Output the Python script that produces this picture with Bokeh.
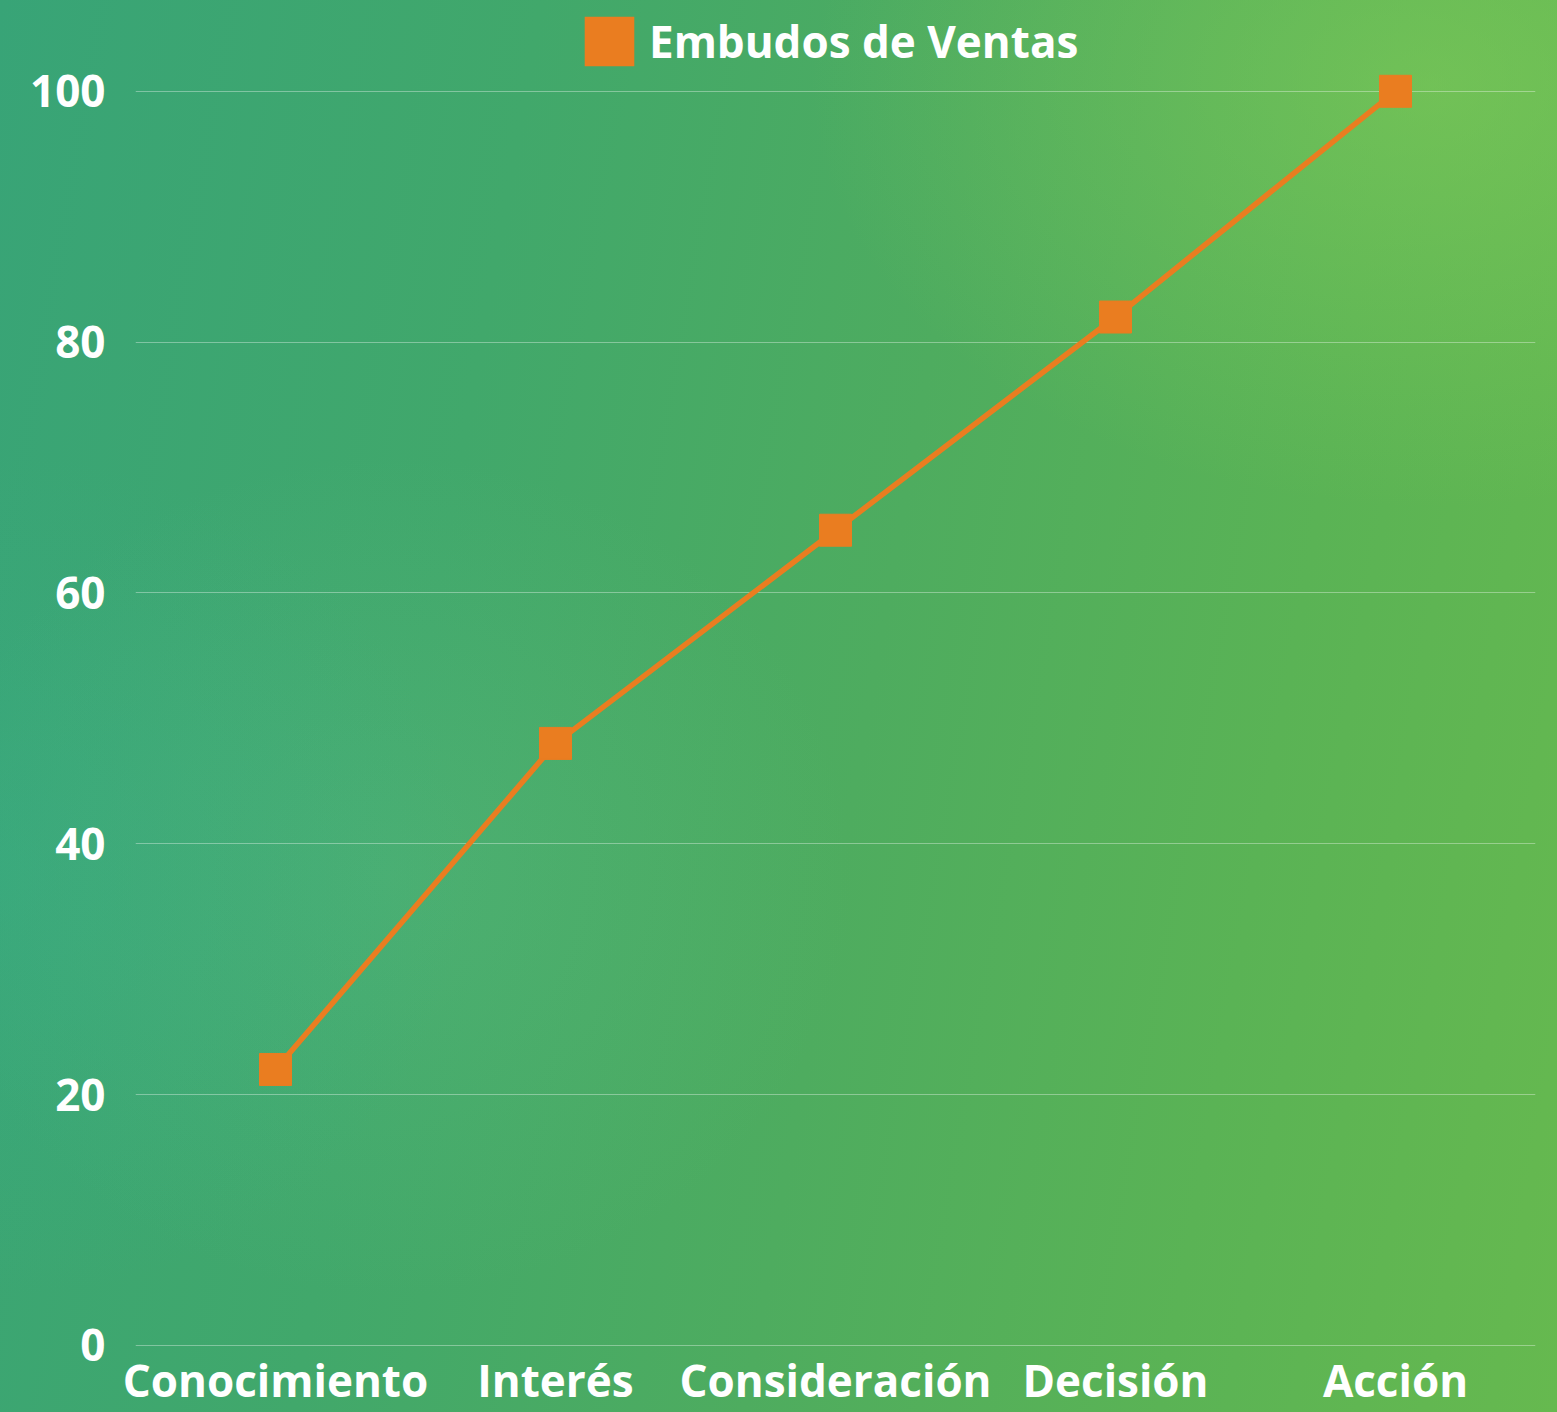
from bokeh.plotting import figure
from bokeh.models import Legend, LegendItem, FixedTicker, Range1d, FactorRange
from bokeh.embed import file_html
from bokeh.resources import INLINE

# ---- data ----
stages = ["Conocimiento", "Interés", "Consideración", "Decisión", "Acción"]
values = [22, 48, 65, 82, 100]
y_ticks = [0, 20, 40, 60, 80, 100]
series_name = "Embudos de Ventas"

ORANGE = "#EA7D20"
FONT = "Open Sans"

W, H = 1557, 1412
p = figure(
    x_range=FactorRange(*stages, range_padding=0),
    y_range=Range1d(-0.25, 107.24),
    width=W, height=H,
    output_backend="svg", toolbar_location=None,
    min_border_left=135, min_border_right=22, min_border_top=0, min_border_bottom=64,
)
p.border_fill_color = None
p.background_fill_color = None
p.outline_line_color = None

# axes
for ax in (p.xaxis, p.yaxis):
    ax.axis_line_color = None
    ax.major_tick_line_color = None
    ax.minor_tick_line_color = None
    ax.major_tick_out = 0
    ax.major_tick_in = 0
    ax.major_label_text_font = FONT
    ax.major_label_text_font_style = "bold"
    ax.major_label_text_color = "white"
    ax.major_label_text_font_size = "44px"
p.xaxis.major_label_standoff = 1
p.yaxis.major_label_standoff = 30
p.yaxis.ticker = FixedTicker(ticks=y_ticks)

# grid
p.xgrid.grid_line_color = None
p.ygrid.grid_line_color = "white"
p.ygrid.grid_line_alpha = 0.35
p.ygrid.grid_line_width = 1

# series
p.line(x=stages, y=values, line_color=ORANGE, line_width=5.5)
p.scatter(x=stages, y=values, marker="square", size=32,
          fill_color=ORANGE, line_color=ORANGE)

# legend swatch proxy (zero-size blocks: area legend gives a solid square)
proxy = p.block(x=stages, y=values, width=0, height=0,
                fill_color=ORANGE, line_color=None)
legend = Legend(items=[LegendItem(label=series_name, renderers=[proxy])],
                location=(443, 1276), orientation="horizontal")
legend.background_fill_alpha = 0
legend.border_line_color = None
legend.padding = 0
legend.margin = 0
legend.glyph_width = 62
legend.glyph_height = 62
legend.label_standoff = 9
legend.label_text_font = FONT
legend.label_text_font_style = "bold"
legend.label_text_font_size = "44px"
legend.label_text_color = "white"
p.add_layout(legend, "center")

html = file_html(p, INLINE, title="Embudos de Ventas")
bg = (
    "html{min-height:100%;"
    "background:"
    "radial-gradient(ellipse 40% 30% at 92% 6%, rgba(140,210,90,0.45) 0%, rgba(140,210,90,0) 100%),"
    "radial-gradient(ellipse 30% 30% at 0% 62%, rgba(55,175,140,0.35) 0%, rgba(55,175,140,0) 100%),"
    "radial-gradient(ellipse 30% 30% at 25% 62%, rgba(110,200,140,0.22) 0%, rgba(110,200,140,0) 100%),"
    "linear-gradient(100deg, #38a477 0%, #41a86b 30%, #4eac5f 55%, #5ab355 78%, #66b94f 100%);}"
    "body{background:transparent;}"
)
html = html.replace("</head>", "<style>" + bg + "</style></head>", 1)
open("out.html", "w").write(html)
